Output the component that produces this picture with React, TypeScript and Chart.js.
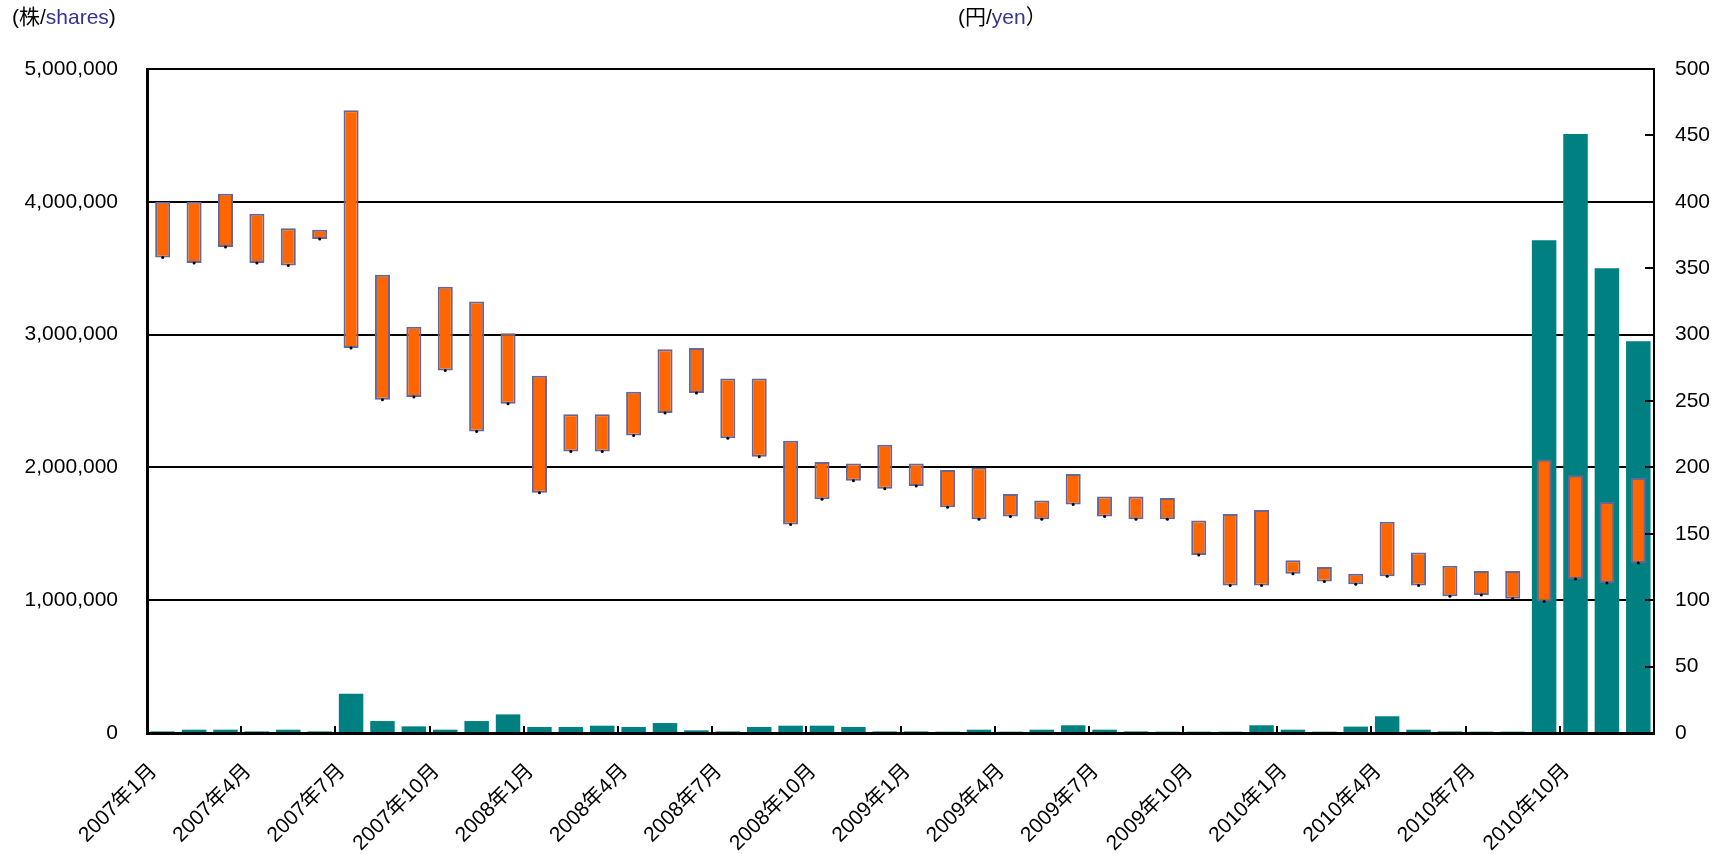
import React, { useEffect, useRef } from 'react';
import { Chart, registerables } from 'chart.js';

Chart.register(...registerables);

const categories = [
  '2007年1月', '2007年2月', '2007年3月', '2007年4月', '2007年5月', '2007年6月',
  '2007年7月', '2007年8月', '2007年9月', '2007年10月', '2007年11月', '2007年12月',
  '2008年1月', '2008年2月', '2008年3月', '2008年4月', '2008年5月', '2008年6月',
  '2008年7月', '2008年8月', '2008年9月', '2008年10月', '2008年11月', '2008年12月',
  '2009年1月', '2009年2月', '2009年3月', '2009年4月', '2009年5月', '2009年6月',
  '2009年7月', '2009年8月', '2009年9月', '2009年10月', '2009年11月', '2009年12月',
  '2010年1月', '2010年2月', '2010年3月', '2010年4月', '2010年5月', '2010年6月',
  '2010年7月', '2010年8月', '2010年9月', '2010年10月', '2010年11月', '2010年12月',
];

const shownTicks = [
  '2007年1月', '2007年4月', '2007年7月', '2007年10月',
  '2008年1月', '2008年4月', '2008年7月', '2008年10月',
  '2009年1月', '2009年4月', '2009年7月', '2009年10月',
  '2010年1月', '2010年4月', '2010年7月', '2010年10月',
];

// monthly volume (shares)
const volume = [
  12000, 25000, 25000, 12000, 25000, 12000, 295000, 90000, 50000, 25000, 90000, 140000,
  45000, 45000, 55000, 45000, 75000, 20000, 12000, 45000, 55000, 55000, 45000, 12000,
  12000, 10000, 25000, 10000, 25000, 58000, 25000, 12000, 10000, 10000, 10000, 58000,
  25000, 10000, 48000, 126000, 25000, 12000, 10000, 10000, 3710000, 4510000, 3500000, 2950000,
];

// monthly high / low price (yen)
const priceHigh = [
  400, 400, 406, 391, 380, 379, 469, 345, 306, 336, 325, 301,
  269, 240, 240, 257, 289, 290, 267, 267, 220, 204, 203, 217,
  203, 198, 200, 180, 175, 195, 178, 178, 177, 160, 165, 168,
  130, 125, 120, 159, 136, 126, 122, 122, 206, 194, 174, 192,
];

const priceLow = [
  358, 354, 366, 354, 352, 372, 290, 251, 253, 273, 227, 248,
  181, 212, 212, 224, 241, 256, 222, 208, 157, 176, 190, 184,
  186, 170, 161, 163, 161, 172, 163, 161, 161, 134, 111, 111,
  120, 114, 112, 118, 111, 103, 104, 101, 99, 116, 113, 128,
];

const volumeTicks = [0, 1000000, 2000000, 3000000, 4000000, 5000000];
const priceTicks = [0, 50, 100, 150, 200, 250, 300, 350, 400, 450, 500];

const FONT = "'Liberation Sans', 'Noto Sans CJK JP', sans-serif";

export default function App() {
  const ref = useRef<HTMLCanvasElement | null>(null);

  useEffect(() => {
    const canvas = ref.current;
    if (!canvas) return;

    const extras = {
      id: 'extras',
      afterDatasetsDraw(chart: any) {
        const c = chart.ctx;
        const xs = chart.scales.x;
        const y1 = chart.scales.y1;
        const area = chart.chartArea;
        c.save();
        c.strokeStyle = '#000';
        c.lineWidth = 2;
        priceTicks.forEach((v) => {
          const py = Math.round(y1.getPixelForValue(v));
          c.beginPath();
          c.moveTo(area.right - 9, py);
          c.lineTo(area.right, py);
          c.stroke();
        });
        for (let k = 3; k < categories.length; k += 3) {
          const px = Math.round((xs.getPixelForValue(k - 1) + xs.getPixelForValue(k)) / 2);
          c.beginPath();
          c.moveTo(px, area.bottom);
          c.lineTo(px, area.bottom - 7);
          c.stroke();
        }
        c.restore();
      },
      afterDraw(chart: any) {
        const c = chart.ctx;
        c.save();
        c.font = `21px ${FONT}`;
        c.textBaseline = 'middle';
        c.textAlign = 'left';
        const drawParts = (x: number, y: number, parts: [string, string][]) => {
          let cx = x;
          parts.forEach(([t, col]) => {
            c.fillStyle = col;
            c.fillText(t, cx, y);
            cx += c.measureText(t).width;
          });
        };
        drawParts(12, 18, [['(株/', '#000'], ['shares', '#33339a'], [')', '#000']]);
        drawParts(958, 18, [['(円/', '#000'], ['yen', '#33339a'], ['）', '#000']]);
        c.restore();
      },
    };

    const tickFont = { family: FONT, size: 21 };

    const chart = new Chart(canvas, {
      type: 'bar',
      data: {
        labels: categories,
        datasets: [
          {
            type: 'line',
            label: 'low',
            data: priceLow,
            yAxisID: 'y1',
            showLine: false,
            pointRadius: 1.5,
            pointBackgroundColor: '#000',
            pointBorderWidth: 0,
            borderWidth: 0,
            order: 0,
          } as any,
          {
            type: 'bar',
            label: 'price',
            data: priceHigh.map((h, i) => [priceLow[i], h]),
            yAxisID: 'y1',
            backgroundColor: '#FF6600',
            borderColor: '#666699',
            borderWidth: 2,
            borderSkipped: false,
            barPercentage: 0.48,
            categoryPercentage: 1,
            grouped: false,
            order: 1,
          } as any,
          {
            type: 'bar',
            label: 'volume',
            data: volume,
            yAxisID: 'y',
            backgroundColor: '#008080',
            borderWidth: 0,
            barPercentage: 0.78,
            categoryPercentage: 1,
            grouped: false,
            order: 2,
          } as any,
        ],
      },
      options: {
        responsive: false,
        animation: false,
        devicePixelRatio: 1,
        layout: { padding: { top: 69, left: 0, right: 0, bottom: 0 } },
        plugins: {
          legend: { display: false },
          tooltip: { enabled: false },
        },
        scales: {
          x: {
            grid: { display: false, drawTicks: false },
            border: { display: true, color: '#000', width: 3 },
            ticks: {
              autoSkip: false,
              maxRotation: 45,
              minRotation: 45,
              padding: 26,
              labelOffset: -9,
              color: '#000',
              font: tickFont,
              callback: (_v: any, i: number) =>
                shownTicks.includes(categories[i]) ? categories[i] : '',
            },
            afterFit: (s: any) => {
              s.height = 121;
            },
          },
          y: {
            position: 'left',
            min: volumeTicks[0],
            max: volumeTicks[volumeTicks.length - 1],
            afterBuildTicks: (s: any) => {
              s.ticks = volumeTicks.map((v) => ({ value: v }));
            },
            ticks: {
              padding: 29,
              color: '#000',
              font: tickFont,
              callback: (v: any) => Number(v).toLocaleString('en-US'),
            },
            grid: { color: '#000', lineWidth: 2, drawTicks: false },
            border: { display: true, color: '#000', width: 3 },
            afterFit: (s: any) => {
              s.width = 147;
            },
          },
          y1: {
            position: 'right',
            min: priceTicks[0],
            max: priceTicks[priceTicks.length - 1],
            afterBuildTicks: (s: any) => {
              s.ticks = priceTicks.map((v) => ({ value: v }));
            },
            ticks: {
              padding: 21,
              color: '#000',
              font: tickFont,
            },
            grid: { drawOnChartArea: false, drawTicks: false },
            border: { display: true, color: '#000', width: 2 },
            afterFit: (s: any) => {
              s.width = 66;
            },
          },
        },
      } as any,
      plugins: [extras],
    });

    return () => {
      chart.destroy();
    };
  }, []);

  return (
    <div style={{ position: 'fixed', left: 0, top: 0, width: 1720, height: 854, background: '#fff' }}>
      <canvas ref={ref} width={1720} height={854} style={{ display: 'block' }} />
    </div>
  );
}
